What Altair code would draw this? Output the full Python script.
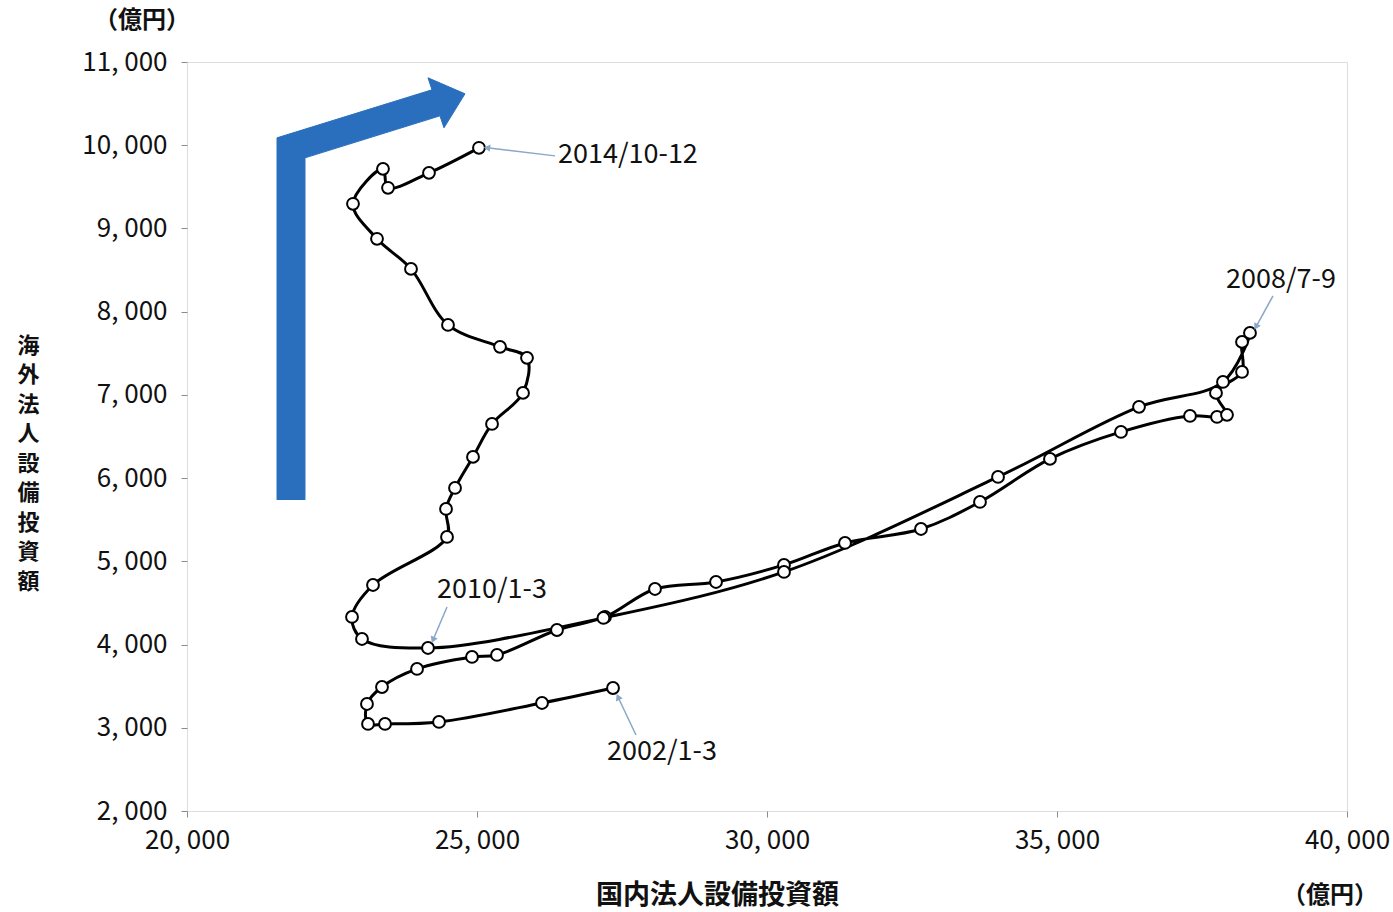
import math
import altair as alt
import pandas as pd

FONT = "Noto Sans CJK JP"

# Quarterly trajectory, 2002/1-3 through 2014/10-12 (unit: 100 million yen)
quarters = [f"{y}/{q}" for y in range(2002, 2015) for q in ("1-3", "4-6", "7-9", "10-12")]

domestic_capex = [
    27345, 26121, 24345, 23414, 23121, 23103, 23362, 23966, 24914, 25345,
    26379, 27207, 28069, 29121, 30293, 31345, 32655, 33672, 34879, 36103,
    37293, 37759, 37931, 37741, 38190, 38190, 38327,
    37862, 36414, 33983, 30293, 27180,
    24155, 23017, 22845, 23207, 24483, 24466, 24621, 24931, 25259, 25793,
    25862, 25397, 24500, 23862, 23276, 22862, 23379, 23466, 24172, 25034,
]
overseas_capex = [
    3478, 3298, 3070, 3046, 3046, 3286, 3490, 3707, 3851, 3875,
    4175, 4332, 4668, 4752, 4957, 5221, 5389, 5714, 6231, 6555,
    6747, 6735, 6760, 7024, 7276, 7637, 7745,
    7156, 6856, 6014, 4873, 4320,
    3959, 4067, 4332, 4716, 5293, 5630, 5882, 6255, 6651, 7024,
    7445, 7577, 7841, 8514, 8875, 9296, 9716, 9488, 9668, 9969,
]

# Callout labels: text position, leader start, leader end
callout_text = ["2014/10-12", "2008/7-9", "2010/1-3", "2002/1-3"]
callout_align = ["left", "center", "center", "center"]
callout_tx = [26397, 38862, 25259, 28190]
callout_ty = [9884, 8382, 4656, 2709]
leader_x0 = [26345, 38724, 24483, 27741]
leader_y0 = [9872, 8190, 4452, 2913]
leader_x1 = [25172, 38431, 24241, 27431]
leader_y1 = [9969, 7817, 4055, 3370]

# Bent "growth" arrow outline (data space)
arrow_x = [21552, 21552, 24224, 24155, 24793, 24431, 24362, 22034, 22034]
arrow_y = [5738, 10089, 10666, 10810, 10618, 10209, 10353, 9848, 5738]

X_DOMAIN = [20000, 40000]
Y_DOMAIN = [2000, 11000]
W, H = 1160, 749

xs = alt.Scale(domain=X_DOMAIN, nice=False, zero=False)
ys = alt.Scale(domain=Y_DOMAIN, nice=False, zero=False)

label_expr = "replace(format(datum.value, ','), ',', ', ')"

x_axis = alt.Axis(
    values=list(range(20000, 40001, 5000)), labelExpr=label_expr, labelFlush=False,
    title="国内法人設備投資額", titleFont=FONT, titleFontSize=27, titleFontWeight="bold",
    titleColor="#111", titleX=530, titleY=84, titleBaseline="middle",
    labelFont=FONT, labelFontSize=26, labelColor="#111", labelPadding=10,
    grid=False, domain=False, tickColor="#8c8c8c", tickSize=6,
)
y_axis = alt.Axis(
    values=list(range(2000, 11001, 1000)), labelExpr=label_expr, labelFlush=False,
    title=list("海外法人設備投資額"), titleFont=FONT, titleFontSize=22, titleFontWeight="bold",
    titleColor="#111", titleAngle=0, titleAlign="center", titleBaseline="middle",
    titleLineHeight=29.5, titleX=-159, titleY=283,
    labelFont=FONT, labelFontSize=26, labelColor="#111", labelPadding=14,
    grid=False, domain=False, tickColor="#8c8c8c", tickSize=6,
)

path_df = pd.DataFrame({
    "seq": range(len(quarters)),
    "quarter": quarters,
    "domestic": domestic_capex,
    "overseas": overseas_capex,
})

arrow_df = pd.DataFrame({"i": range(len(arrow_x)), "x": arrow_x, "y": arrow_y})

# Screen-space angle for each leader's arrowhead
sx = W / (X_DOMAIN[1] - X_DOMAIN[0])
sy = H / (Y_DOMAIN[1] - Y_DOMAIN[0])
angles = []
for a, b, c, d in zip(leader_x0, leader_y0, leader_x1, leader_y1):
    dxp = (c - a) * sx
    dyp = -(d - b) * sy
    angles.append(math.degrees(math.atan2(dxp, -dyp)) % 360)

callout_df = pd.DataFrame({
    "text": callout_text, "align": callout_align,
    "tx": callout_tx, "ty": callout_ty,
    "x0": leader_x0, "y0": leader_y0, "x1": leader_x1, "y1": leader_y1,
    "ang": angles,
})

arrow = alt.Chart(arrow_df).mark_line(
    fill="#2a6fbe", stroke="#2a6fbe", strokeWidth=1, clip=False
).encode(
    x=alt.X("x:Q", scale=xs, axis=x_axis),
    y=alt.Y("y:Q", scale=ys, axis=y_axis),
    order="i:O",
)

trajectory = alt.Chart(path_df).mark_line(
    color="#000", strokeWidth=3, interpolate="catmull-rom"
).encode(
    x=alt.X("domestic:Q", scale=xs),
    y=alt.Y("overseas:Q", scale=ys),
    order="seq:Q",
)

points = alt.Chart(path_df).mark_point(
    shape="circle", filled=True, fill="#ffffff", stroke="#000", strokeWidth=2, size=140, opacity=1
).encode(
    x=alt.X("domestic:Q", scale=xs),
    y=alt.Y("overseas:Q", scale=ys),
)

leaders = alt.Chart(callout_df).mark_rule(color="#8aa6c8", strokeWidth=1.5).encode(
    x=alt.X("x0:Q", scale=xs), y=alt.Y("y0:Q", scale=ys),
    x2="x1:Q", y2="y1:Q",
)

heads = alt.Chart(callout_df).mark_point(
    shape="triangle-up", filled=True, fill="#8aa6c8", stroke="#8aa6c8", strokeWidth=0,
    size=55, opacity=1
).encode(
    x=alt.X("x1:Q", scale=xs), y=alt.Y("y1:Q", scale=ys),
    angle=alt.Angle("ang:Q", scale=None),
)

label_left = alt.Chart(callout_df[callout_df["align"] == "left"]).mark_text(
    font=FONT, fontSize=27, color="#111", align="left", baseline="middle"
).encode(x=alt.X("tx:Q", scale=xs), y=alt.Y("ty:Q", scale=ys), text="text:N")

label_center = alt.Chart(callout_df[callout_df["align"] == "center"]).mark_text(
    font=FONT, fontSize=27, color="#111", align="center", baseline="middle"
).encode(x=alt.X("tx:Q", scale=xs), y=alt.Y("ty:Q", scale=ys), text="text:N")

unit_df = pd.DataFrame({"t": ["（億円）"]})
unit_y = alt.Chart(unit_df).mark_text(
    font=FONT, fontSize=24, fontWeight="bold", color="#111", align="center", baseline="middle"
).encode(x=alt.value(-45), y=alt.value(-41), text="t:N")
unit_x = alt.Chart(unit_df).mark_text(
    font=FONT, fontSize=24, fontWeight="bold", color="#111", align="center", baseline="middle"
).encode(x=alt.value(1143), y=alt.value(834), text="t:N")

chart = alt.layer(
    arrow, trajectory, points, leaders, heads, label_left, label_center, unit_y, unit_x
).properties(
    width=W, height=H,
    autosize=alt.AutoSizeParams(type="none"),
    padding={"left": 187, "top": 62, "right": 46, "bottom": 101},
    background="#ffffff",
).configure_view(
    stroke="#808080", strokeWidth=2
).configure(font=FONT)

chart.save("out.html", embed_options={"renderer": "svg", "actions": False})
